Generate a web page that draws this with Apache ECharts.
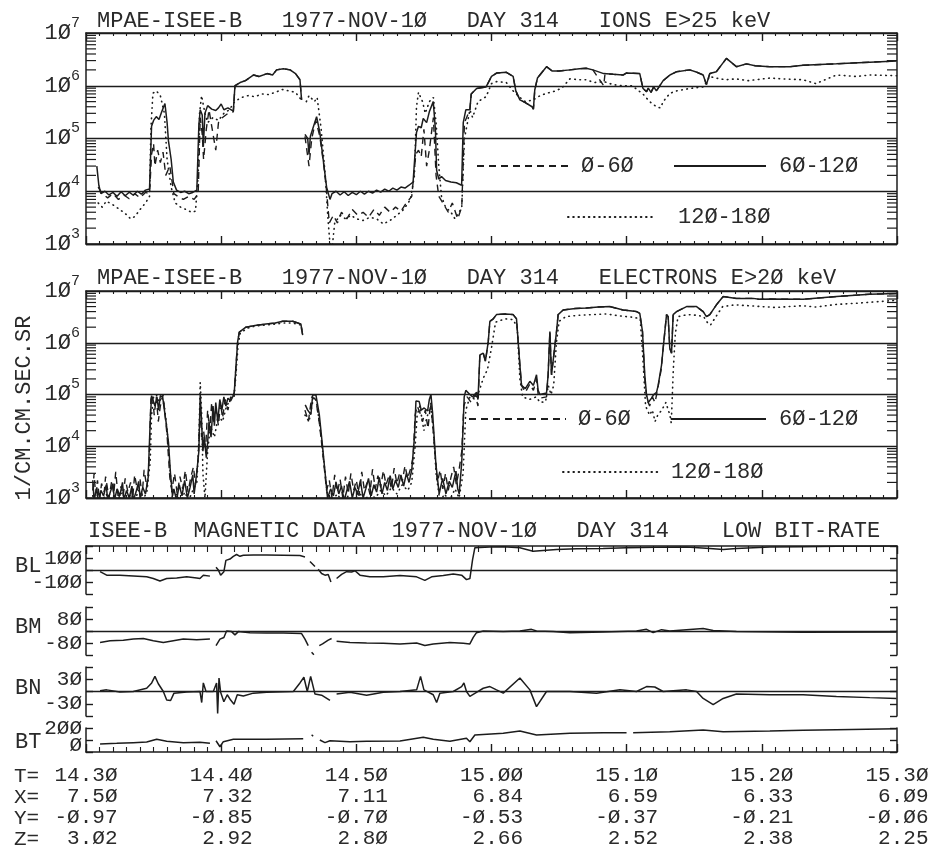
<!DOCTYPE html>
<html><head><meta charset="utf-8">
<script src="https://cdn.jsdelivr.net/npm/echarts@6.0.0/dist/echarts.min.js"></script>
<style>html,body{margin:0;padding:0;background:#fff}#c{width:940px;height:848px}</style>
</head><body><div id="c"></div>
<script>
// ---------- texts ----------
const ionTitle = 'MPAE-ISEE-B   1977-NOV-1Ø   DAY 314   IONS E>25 keV';
const elecTitle = 'MPAE-ISEE-B   1977-NOV-1Ø   DAY 314   ELECTRONS E>2Ø keV';
const magTitle = 'ISEE-B  MAGNETIC DATA  1977-NOV-1Ø   DAY 314    LOW BIT-RATE';
const yUnit = '1/CM.CM.SEC.SR';
const seriesNames = ['Ø-6Ø', '6Ø-12Ø', '12Ø-18Ø'];
const magNames = ['BL', 'BM', 'BN', 'BT'];

// ---------- bottom tick labels (every 10 min from 14.30) ----------
const tLabels = ['14.3Ø', '14.4Ø', '14.5Ø', '15.ØØ', '15.1Ø', '15.2Ø', '15.3Ø'];
const xPos = ['7.5Ø', '7.32', '7.11', '6.84', '6.59', '6.33', '6.Ø9'];
const yPos = ['-Ø.97', '-Ø.85', '-Ø.7Ø', '-Ø.53', '-Ø.37', '-Ø.21', '-Ø.Ø6'];
const zPos = ['3.Ø2', '2.92', '2.8Ø', '2.66', '2.52', '2.38', '2.25'];

// ---------- ions E>25 keV, [minutes after 14:30, flux] ----------
const ions060 = [[0.9,1.2e4],[1.2,9e3],[1.6,7.5e3],[2.0,9e3],[2.4,7e3],[2.8,8.5e3],[3.2,7.2e3],[3.6,9e3],[4.0,7.5e3],[4.4,9.5e3],[4.7,9e3],[4.85,5e4],[5.0,8e4],[5.1,3e4],[5.3,6e4],[5.5,3.5e4],[5.7,5.5e4],[5.9,2e4],[6.2,3e4],[6.5,9e3],[6.8,8e3],[7.2,7e3],[7.6,8e3],[8.0,7e3],[8.3,9e3],[8.45,2.5e5],[8.6,1.2e5],[8.7,4e4],[8.9,1.5e5],[9.1,3.5e5],[9.4,1.2e5],[9.6,6e4],[9.8,2e5],[10.1,2.5e5],[10.5,3e5],[10.9,3.2e5],[11.02,1.0e6],[11.4,1.15e6],[11.8,1.25e6],[12.4,1.6e6],[12.8,1.5e6],[13.4,1.7e6],[13.8,1.6e6],[14.1,2.0e6],[14.6,2.1e6],[15.1,2.0e6],[15.5,1.7e6],[15.83,1.3e6],[15.95,5.4e5],[16.05,null],[16.2,1.1e5],[16.5,3e4],[16.7,1e5],[17.0,2.2e5],[17.3,1.1e5],[17.6,3e4],[17.8,1e4],[18.0,2.5e3],[18.3,3.5e3],[18.6,2.5e3],[18.9,4e3],[19.3,3e3],[19.7,4.5e3],[20.1,3.5e3],[20.5,4e3],[20.9,3.2e3],[21.3,4.5e3],[21.7,3.5e3],[22.1,5e3],[22.5,4e3],[22.9,5e3],[23.3,4.2e3],[23.7,6e3],[24.1,8e3],[24.4,5e4],[24.6,6e4],[24.8,4.5e4],[25.0,1.5e5],[25.2,3e4],[25.4,6e4],[25.7,2.5e5],[25.9,2e4],[26.1,8e3],[26.4,6e3],[26.8,4e3],[27.1,6e3],[27.5,3e3],[27.8,5e3],[28.0,2e5],[28.4,3.5e5],[28.5,7e5],[28.9,8.9e5],[29.6,9.5e5],[30.0,1.5e6],[30.4,1.75e6],[31.1,1.8e6],[31.6,1.5e6],[31.8,8e5],[32.1,5.4e5],[32.5,4.8e5],[33.0,4.0e5],[33.1,3.6e5],[33.2,8.3e5],[33.4,1.4e6],[34.07,2.3e6],[34.5,1.9e6],[35.0,1.9e6],[35.8,2.0e6],[36.5,2.1e6],[37.0,2.15e6],[37.5,2.0e6],[38.3,1.0e6],[38.4,1.7e6],[39.0,1.65e6],[39.74,1.6e6],[40.0,1.75e6],[40.97,1.7e6],[41.2,9e5],[41.47,7.7e5],[41.6,9e5],[41.8,7.5e5],[42.0,9.5e5],[42.2,8e5],[42.7,1.25e6],[43.2,1.6e6],[43.7,1.85e6],[44.67,2.0e6],[45.2,1.8e6],[45.66,1.6e6],[45.9,1.05e6],[46.15,1.7e6],[46.64,1.85e6],[47.38,3.3e6],[48.12,2.3e6],[48.86,2.6e6],[49.5,2.4e6],[50.59,2.3e6],[52.07,2.3e6],[53.05,2.45e6],[55.52,2.6e6],[57.99,2.8e6],[59.96,2.95e6]];
const ions60120 = [[0.8,3e4],[0.95,1.3e4],[1.1,9e3],[1.4,1.0e4],[1.7,8.5e3],[2.0,9.5e3],[2.3,8e3],[2.6,9.8e3],[2.9,8.2e3],[3.2,9.6e3],[3.5,8.4e3],[3.8,1.0e4],[4.1,8.8e3],[4.4,1.05e4],[4.7,1.1e4],[4.85,1.7e5],[5.0,2.2e5],[5.2,2.6e5],[5.4,2.3e5],[5.6,3.2e5],[5.84,4.6e5],[6.0,2e5],[6.1,9e4],[6.3,4e4],[6.46,1.5e4],[6.7,1.05e4],[7.0,9.5e3],[7.3,1.0e4],[7.6,9e3],[7.9,9.5e3],[8.2,1.05e4],[8.35,1.8e5],[8.45,3.5e5],[8.6,2.8e5],[8.68,7e4],[8.8,3e5],[9.0,4.2e5],[9.3,3.6e5],[9.6,3.4e5],[9.8,3.8e5],[10.0,4.5e5],[10.2,3.5e5],[10.5,3.8e5],[10.9,3.3e5],[11.02,1.0e6],[11.4,1.15e6],[11.8,1.25e6],[12.4,1.6e6],[12.8,1.5e6],[13.4,1.7e6],[13.8,1.6e6],[14.1,2.0e6],[14.6,2.1e6],[15.1,2.0e6],[15.5,1.7e6],[15.83,1.3e6],[15.95,5.4e5],[16.05,null],[16.2,1.2e5],[16.4,1.0e5],[16.5,5e4],[16.6,1.1e5],[16.8,1.6e5],[17.06,2.6e5],[17.3,1.3e5],[17.5,5e4],[17.8,1.2e4],[18.05,7e3],[18.2,9e3],[18.5,1.0e4],[18.8,8.5e3],[19.1,9.8e3],[19.4,8.3e3],[19.7,9.5e3],[20.0,8.6e3],[20.3,1.0e4],[20.6,8.8e3],[20.9,1.0e4],[21.2,9.2e3],[21.5,1.05e4],[21.8,9.6e3],[22.1,1.1e4],[22.4,1.0e4],[22.7,1.15e4],[23.0,1.05e4],[23.3,1.2e4],[23.6,1.15e4],[23.9,1.3e4],[24.2,1.5e4],[24.45,1.3e5],[24.6,1.7e5],[24.8,1.6e5],[24.95,2.4e5],[25.2,2.0e5],[25.4,3.2e5],[25.69,5.0e5],[25.85,1.5e5],[25.94,2.5e4],[26.1,1.7e4],[26.3,1.9e4],[26.6,1.6e4],[27.0,1.5e4],[27.4,1.45e4],[27.79,1.3e4],[27.91,2e5],[28.1,3.5e5],[28.4,3.5e5],[28.5,7e5],[28.9,8.9e5],[29.6,9.5e5],[30.0,1.5e6],[30.4,1.75e6],[31.1,1.8e6],[31.6,1.5e6],[31.8,8e5],[32.1,5.4e5],[32.5,4.8e5],[33.0,4.0e5],[33.1,3.6e5],[33.2,8.3e5],[33.4,1.4e6],[34.07,2.3e6],[34.5,1.9e6],[35.0,1.9e6],[35.8,2.0e6],[36.5,2.1e6],[37.0,2.15e6],[37.5,2.0e6],[38.3,1.7e6],[39.0,1.65e6],[39.74,1.6e6],[40.0,1.75e6],[40.97,1.7e6],[41.2,9e5],[41.47,7.7e5],[41.6,9e5],[41.8,7.5e5],[42.0,9.5e5],[42.2,8e5],[42.7,1.25e6],[43.2,1.6e6],[43.7,1.85e6],[44.67,2.0e6],[45.2,1.8e6],[45.66,1.6e6],[45.9,1.05e6],[46.15,1.7e6],[46.64,1.85e6],[47.38,3.3e6],[48.12,2.3e6],[48.86,2.6e6],[49.5,2.4e6],[50.59,2.3e6],[52.07,2.3e6],[53.05,2.45e6],[55.52,2.6e6],[57.99,2.8e6],[59.96,2.95e6]];
const ions120180 = [[0.9,6e3],[1.2,5e3],[1.5,6.5e3],[2.0,5.5e3],[2.5,4.5e3],[3.0,3.6e3],[3.3,3.0e3],[3.6,3.3e3],[4.0,4.5e3],[4.4,6e3],[4.7,8e3],[4.8,1.5e5],[4.95,7.2e5],[5.2,8e5],[5.5,6.5e5],[5.8,3e5],[6.0,4e4],[6.3,1.2e4],[6.6,6e3],[7.0,5e3],[7.4,4.5e3],[7.8,4e3],[8.1,4.2e3],[8.3,2e4],[8.4,3e5],[8.55,6.5e5],[8.8,3e5],[9.0,2e5],[9.4,2.5e5],[9.8,2.2e5],[10.2,3e5],[10.6,3.5e5],[11.0,5e5],[11.5,6e5],[12.0,6.5e5],[12.5,6.2e5],[13.0,7e5],[13.5,6.8e5],[14.0,7.5e5],[14.5,8.5e5],[15.0,8e5],[15.5,7.5e5],[15.9,5.5e5],[16.1,null],[16.3,5e5],[16.5,6.5e5],[16.9,5e5],[17.1,6e5],[17.4,1.5e5],[17.7,2e4],[17.9,3e3],[18.05,1e3],[18.2,8e2],[18.4,2.5e3],[18.8,3.5e3],[19.2,3e3],[19.6,3.5e3],[20.0,3e3],[20.5,2.8e3],[21.0,3.2e3],[21.5,3.0e3],[22.0,2.4e3],[22.5,2.8e3],[23.0,3.5e3],[23.5,4.5e3],[24.0,7e3],[24.3,2e4],[24.45,4e5],[24.6,7.5e5],[24.9,5e5],[25.1,3e5],[25.4,5e5],[25.7,6e5],[25.9,2e5],[26.1,3e4],[26.3,8e3],[26.6,5e3],[27.0,4e3],[27.3,3e3],[27.6,4e3],[27.8,5e3],[28.0,1e5],[28.4,3.5e5],[28.6,2.5e5],[29.0,5e5],[29.6,6.2e5],[30.0,1.1e6],[30.4,1.2e6],[31.1,1.15e6],[31.6,8e5],[32.1,6e5],[32.5,5e5],[33.1,5.4e5],[33.6,6.5e5],[34.07,7.2e5],[34.56,7.7e5],[35.2,9e5],[35.8,1.35e6],[36.5,1.3e6],[37.0,1.3e6],[37.6,1.15e6],[38.3,1.2e6],[39.0,1.05e6],[39.7,1.0e6],[40.4,1.0e6],[41.2,7e5],[41.7,5e5],[42.2,4e5],[42.5,3.8e5],[42.7,5e5],[43.2,7.2e5],[43.7,8e5],[44.67,8.9e5],[45.66,9.5e5],[46.15,1.5e6],[46.6,1.4e6],[47.3,1.3e6],[48.1,1.35e6],[49.0,1.25e6],[50.59,1.4e6],[51.5,1.35e6],[53.05,1.3e6],[54.0,1.1e6],[55.52,1.6e6],[57.0,1.5e6],[58.0,1.6e6],[59.96,1.55e6]];

// ---------- electrons E>20 keV ----------
const elec060 = [[0.5,1.4e3],[0.6,3e3],[0.7,1.2e3],[0.85,2.2e3],[1.0,9e2],[1.15,1.9e3],[1.35,1.3e3],[1.45,2.6e3],[1.7,1.0e3],[1.9,2.1e3],[2.05,1.2e3],[2.2,3.2e3],[2.4,9e2],[2.6,1.7e3],[2.75,1.1e3],[2.9,2.4e3],[3.1,1.3e3],[3.3,2.0e3],[3.45,1.0e3],[3.6,2.8e3],[3.8,1.4e3],[4.0,2.3e3],[4.15,1.1e3],[4.3,3.5e3],[4.5,1.6e3],[4.65,4e3],[4.8,8e4],[4.9,1.0e5],[5.05,4e4],[5.2,9e4],[5.35,3e4],[5.5,6e4],[5.7,1e5],[5.85,4e4],[6.0,1.6e4],[6.2,2.5e3],[6.35,1.4e3],[6.55,3e3],[6.75,1.2e3],[6.95,2.6e3],[7.15,1.5e3],[7.35,3.4e3],[7.55,1.3e3],[7.75,2.5e3],[7.95,4e3],[8.1,1.8e3],[8.3,6e3],[8.45,6e4],[8.55,1.5e4],[8.7,2e4],[8.85,9e3],[9.0,5e4],[9.15,2e4],[9.3,7e4],[9.45,3e4],[9.6,5e4],[9.8,2.5e4],[9.95,7e4],[10.1,3.5e4],[10.3,8e4],[10.5,5e4],[10.7,9e4],[10.9,8e4],[10.97,1.1e5],[11.1,3.7e5],[11.22,1.05e6],[11.34,1.6e6],[11.83,2.0e6],[12.5,2.15e6],[13.31,2.3e6],[14.0,2.4e6],[14.55,2.6e6],[15.29,2.6e6],[15.9,2.3e6],[16.03,1.4e6],[16.1,null],[16.2,5e4],[16.45,3e4],[16.7,9e4],[17.0,8e4],[17.25,3e4],[17.5,8e3],[17.8,1.4e3],[18.0,2.2e3],[18.2,1.0e3],[18.4,2.8e3],[18.6,1.3e3],[18.8,2.3e3],[19.0,1.0e3],[19.2,2.6e3],[19.4,1.2e3],[19.6,3e3],[19.8,1.4e3],[20.0,2.2e3],[20.2,1.1e3],[20.4,3.2e3],[20.6,1.4e3],[20.8,2.0e3],[21.0,1.2e3],[21.2,3.6e3],[21.4,1.5e3],[21.6,2.7e3],[21.8,1.6e3],[22.0,3.4e3],[22.2,1.8e3],[22.4,2.6e3],[22.6,1.5e3],[22.8,3.8e3],[23.0,1.9e3],[23.2,3.0e3],[23.4,2.1e3],[23.6,4.2e3],[23.8,2.4e3],[24.0,3.6e3],[24.2,6e3],[24.35,4e4],[24.5,6e4],[24.7,4.5e4],[24.9,3e4],[25.1,5e4],[25.3,2.2e4],[25.5,7e4],[25.7,1.8e4],[25.85,6e3],[26.0,2e3],[26.2,3.5e3],[26.4,1.5e3],[26.6,3e3],[26.8,1.4e3],[27.0,2.5e3],[27.2,4e3],[27.4,1.8e3],[27.6,3.5e3],[27.8,8e3],[27.95,6e4],[28.2,9e4],[28.5,7e4],[28.8,1.0e5],[29.0,6e4],[29.14,5.8e5],[29.39,6.3e5],[29.55,4.4e5],[29.76,1.05e6],[29.88,2.6e6],[30.13,2.9e6],[30.37,3.5e6],[31.0,3.6e6],[31.6,3.5e6],[31.85,2.9e6],[32.1,3.7e5],[32.22,1.5e5],[32.5,1.1e5],[32.84,1.6e5],[33.1,1.2e5],[33.33,2e5],[33.45,1.0e5],[33.58,8.5e4],[34.07,9e4],[34.19,2.4e5],[34.32,1.65e6],[34.44,2.4e5],[34.56,2.4e5],[34.81,1.65e6],[34.93,3.5e6],[35.3,4.3e6],[36.2,4.6e6],[37.03,4.7e6],[37.9,4.9e6],[38.75,5.0e6],[39.74,4.3e6],[40.73,4.0e6],[40.97,3.7e6],[41.17,1.65e6],[41.34,2.0e5],[41.5,8e4],[41.7,6e4],[41.9,9e4],[42.1,7e4],[42.3,1.3e5],[42.55,3e5],[42.7,7.8e5],[42.95,3.5e6],[43.07,3.2e6],[43.19,7.8e5],[43.32,6.3e5],[43.44,3.5e6],[43.69,4.0e6],[44.43,5.0e6],[45.17,5.0e6],[45.66,4.0e6],[45.9,3.2e6],[46.15,3.5e6],[46.64,5.4e6],[47.14,7.8e6],[48.12,7.2e6],[49.36,7.2e6],[49.8,6.9e6],[50.59,7.0e6],[53.05,6.9e6],[55.52,7.8e6],[57.99,8.7e6],[59.96,8.9e6]];
const elec60120 = [[0.5,2.2e3],[0.6,9e2],[0.8,1.6e3],[0.9,8e2],[1.1,1.4e3],[1.3,1.1e3],[1.5,1.8e3],[1.6,9e2],[1.8,1.3e3],[2.0,1.9e3],[2.1,9e2],[2.3,1.5e3],[2.5,1.1e3],[2.7,2.0e3],[2.8,9e2],[3.0,1.4e3],[3.2,1.0e3],[3.4,1.7e3],[3.5,9e2],[3.7,1.3e3],[3.9,2.1e3],[4.0,1.0e3],[4.2,1.6e3],[4.4,1.2e3],[4.6,2.5e3],[4.75,3e4],[4.85,9.5e4],[4.95,1.0e5],[5.1,6e4],[5.25,9e4],[5.37,5e4],[5.5,9.5e4],[5.67,9e4],[5.8,5e4],[5.92,3e4],[6.1,1.2e4],[6.25,3e3],[6.4,1.1e3],[6.5,1.5e3],[6.7,9e2],[6.9,1.8e3],[7.1,1.1e3],[7.3,2.2e3],[7.5,1.0e3],[7.7,1.6e3],[7.9,2.8e3],[8.0,1.2e3],[8.2,3.2e3],[8.35,8e3],[8.45,1.0e5],[8.55,3e4],[8.65,8e3],[8.75,1.5e4],[8.9,6e3],[9.0,1.2e4],[9.1,3e4],[9.25,1.5e4],[9.4,6e4],[9.5,2.5e4],[9.6,7e4],[9.75,3e4],[9.9,8e4],[10.05,5e4],[10.2,9e4],[10.35,6e4],[10.5,8.5e4],[10.7,7.5e4],[10.85,9e4],[10.97,1.1e5],[11.1,3.7e5],[11.22,1.05e6],[11.34,1.6e6],[11.83,2.0e6],[12.5,2.15e6],[13.31,2.3e6],[14.0,2.4e6],[14.55,2.6e6],[15.29,2.6e6],[15.9,2.3e6],[16.03,1.4e6],[16.1,null],[16.22,6.3e4],[16.4,5e4],[16.64,4.1e4],[16.77,9.8e4],[17.01,9.8e4],[17.26,4.1e4],[17.5,1.0e4],[17.75,2.1e3],[17.87,1.0e3],[18.1,1.5e3],[18.3,1.1e3],[18.5,2.0e3],[18.7,1.2e3],[18.9,1.7e3],[19.1,9e2],[19.3,1.4e3],[19.5,2.1e3],[19.7,1.0e3],[19.9,1.6e3],[20.1,1.2e3],[20.3,2.2e3],[20.5,1.0e3],[20.7,1.5e3],[20.9,2.4e3],[21.1,1.1e3],[21.3,1.8e3],[21.5,1.3e3],[21.7,2.5e3],[21.9,1.2e3],[22.1,2.0e3],[22.3,1.4e3],[22.5,2.7e3],[22.7,1.5e3],[22.9,2.2e3],[23.1,1.6e3],[23.3,2.8e3],[23.5,1.7e3],[23.7,3.0e3],[23.9,2.0e3],[24.1,3.5e3],[24.3,1.5e4],[24.41,7.5e4],[24.65,7.3e4],[24.8,5e4],[25.02,5.5e4],[25.27,4.8e4],[25.4,8e4],[25.52,1.0e5],[25.64,4.5e4],[25.89,4.4e3],[26.13,1.2e3],[26.38,2.4e3],[26.63,1.2e3],[26.87,2.1e3],[27.1,1.6e3],[27.37,3.3e3],[27.5,1.5e3],[27.61,1.2e3],[27.8,5e3],[27.98,9e4],[28.1,1.2e5],[28.4,1.0e5],[28.6,9e4],[28.9,1.1e5],[29.0,8e4],[29.14,5.8e5],[29.39,6.3e5],[29.55,4.4e5],[29.76,1.05e6],[29.88,2.6e6],[30.13,2.9e6],[30.37,3.5e6],[31.0,3.6e6],[31.6,3.5e6],[31.85,2.9e6],[32.1,3.7e5],[32.22,1.5e5],[32.5,1.3e5],[32.84,1.8e5],[33.1,1.5e5],[33.33,2.4e5],[33.45,1.2e5],[33.58,1.0e5],[34.07,1.07e5],[34.19,2.4e5],[34.32,1.65e6],[34.44,2.4e5],[34.56,2.4e5],[34.81,1.65e6],[34.93,3.5e6],[35.3,4.3e6],[36.2,4.6e6],[37.03,4.7e6],[37.9,4.9e6],[38.75,5.0e6],[39.74,4.3e6],[40.73,4.0e6],[40.97,3.7e6],[41.17,1.65e6],[41.34,2.4e5],[41.47,9.8e4],[41.6,7e4],[41.84,8.5e4],[42.0,1.0e5],[42.21,1.1e5],[42.33,1.5e5],[42.58,3.7e5],[42.7,7.8e5],[42.95,3.5e6],[43.07,3.2e6],[43.19,7.8e5],[43.32,6.3e5],[43.44,3.5e6],[43.69,4.0e6],[44.43,5.0e6],[45.17,5.0e6],[45.66,4.0e6],[45.9,3.2e6],[46.15,3.5e6],[46.64,5.4e6],[47.14,7.8e6],[48.12,7.2e6],[49.36,7.2e6],[49.8,6.9e6],[50.59,7.0e6],[53.05,6.9e6],[55.52,7.8e6],[57.99,8.7e6],[59.96,8.9e6]];
const elec120180 = [[0.5,1.1e3],[0.7,8e2],[0.9,1.3e3],[1.2,9e2],[1.5,1.2e3],[1.8,8e2],[2.1,1.1e3],[2.4,9e2],[2.7,1.3e3],[3.0,8e2],[3.3,1.2e3],[3.6,9e2],[3.9,1.4e3],[4.2,9e2],[4.5,1.3e3],[4.75,5e3],[4.85,4e4],[5.0,9e4],[5.2,1e5],[5.4,7e4],[5.6,9e4],[5.8,6e4],[6.0,2e4],[6.2,4e3],[6.4,9e2],[6.7,1.2e3],[7.0,8e2],[7.3,1.3e3],[7.6,9e2],[7.9,1.4e3],[8.2,2e3],[8.35,1.2e4],[8.45,1.7e5],[8.55,5e4],[8.65,3e3],[8.8,1e3],[9.0,8e3],[9.2,2.5e4],[9.5,1.5e4],[9.8,4e4],[10.1,3e4],[10.4,6e4],[10.7,8e4],[10.95,9e4],[11.1,2.5e5],[11.25,9e5],[11.4,1.5e6],[11.9,1.9e6],[12.5,2.1e6],[13.3,2.2e6],[14.0,2.3e6],[14.6,2.4e6],[15.3,2.4e6],[15.9,2.2e6],[16.0,1.5e6],[16.1,null],[16.2,4e4],[16.5,3e4],[16.8,8e4],[17.0,9e4],[17.3,2.5e4],[17.6,5e3],[17.85,1.2e3],[18.2,9e2],[18.6,1.2e3],[19.0,8e2],[19.4,1.1e3],[19.8,9e2],[20.2,1.3e3],[20.6,9e2],[21.0,1.2e3],[21.4,1.0e3],[21.8,1.4e3],[22.2,1.1e3],[22.6,1.6e3],[23.0,1.2e3],[23.4,1.8e3],[23.8,1.4e3],[24.1,2e3],[24.35,1e4],[24.5,4e4],[24.7,6e4],[25.0,2e4],[25.2,3.5e4],[25.5,6e4],[25.7,2e4],[25.9,3e3],[26.2,8e2],[26.5,1.2e3],[26.9,9e2],[27.3,1.5e3],[27.6,1e3],[27.9,3e3],[28.1,5e4],[28.4,9e4],[28.8,8e4],[29.1,1.2e5],[29.4,2.1e5],[29.7,3e5],[30.0,8e5],[30.3,2.5e6],[31.0,2.9e6],[31.6,2.8e6],[31.9,2e6],[32.1,2e5],[32.3,9e4],[32.8,8e4],[33.3,9e4],[33.6,7e4],[34.0,7.3e4],[34.2,1.5e5],[34.4,1e5],[34.6,1.5e5],[34.8,1e6],[35.0,2.6e6],[35.5,3.2e6],[36.5,3.4e6],[37.5,3.5e6],[38.5,3.6e6],[39.5,3.3e6],[40.5,3.1e6],[41.0,2.9e6],[41.2,5e5],[41.4,6e4],[41.7,4e4],[41.9,5e4],[42.1,3e4],[42.2,2.8e4],[42.3,4e4],[42.6,5e4],[42.9,7e4],[43.2,4e4],[43.3,2.8e4],[43.45,3e5],[43.6,1.5e6],[43.8,3.2e6],[44.5,3.5e6],[45.2,3.4e6],[45.7,3.2e6],[46.0,2.4e6],[46.2,2.2e6],[46.7,3.5e6],[47.1,5.0e6],[48.0,5.4e6],[49.0,5.2e6],[50.0,5.0e6],[51.0,4.8e6],[52.0,5.0e6],[53.0,5.2e6],[54.0,4.9e6],[55.5,5.5e6],[57.0,5.8e6],[58.5,6.2e6],[59.96,6.6e6]];

// ---------- magnetic field (nT) ----------
const magBL = [[1.04,-14],[1.53,-43],[2.51,-43],[3.5,-49],[4.49,-57],[4.98,-71],[5.47,-91],[5.97,-71],[6.71,-66],[7.45,-57],[8.19,-66],[8.43,-71],[8.68,-43],[9.17,-51],[9.4,null],[9.62,23],[9.79,0],[9.96,-43],[10.2,-14],[10.35,80],[10.65,91],[10.9,114],[11.14,129],[11.39,114],[11.64,123],[12.38,126],[13.36,126],[14.6,123],[15.83,120],[16.2,109],[16.4,null],[16.57,71],[16.94,29],[17.05,null],[17.18,6],[17.43,-29],[17.68,-43],[17.92,-37],[18.12,-100],[18.3,null],[18.54,-71],[18.91,-37],[19.28,-14],[19.65,-17],[19.9,-6],[20.27,-43],[21.0,-57],[21.99,-57],[23.23,-46],[24.46,-57],[25.07,-86],[25.57,-57],[26.43,-46],[27.17,-34],[27.79,-43],[28.15,-80],[28.4,-71],[28.6,86],[28.77,186],[29.88,191],[30.87,194],[32.1,186],[33.08,157],[33.82,163],[34.81,171],[36.3,177],[38.26,180],[39.99,186],[42.2,189],[44.43,191],[46.15,180],[47.14,171],[48.12,180],[50.59,191],[53.05,194],[55.52,197],[59.96,199]];
const magBM = [[1.04,-76],[1.78,-65],[2.76,-61],[3.5,-54],[4.24,-50],[4.98,-65],[5.72,-76],[6.46,-65],[7.2,-54],[8.19,-58],[9.17,-54],[9.4,null],[9.62,-97],[9.91,-54],[10.2,-43],[10.4,0],[10.77,-4],[11.02,-26],[11.27,-4],[12.13,-11],[13.36,-13],[14.6,-13],[15.95,-17],[16.2,-54],[16.44,-97],[16.55,null],[16.69,-141],[16.86,-158],[17.0,null],[17.26,-97],[17.5,-86],[17.92,-61],[18.17,-50],[18.35,null],[18.54,-69],[19.53,-76],[20.76,-80],[21.99,-82],[23.23,-86],[24.46,-80],[25.07,-97],[25.69,-86],[26.92,-76],[27.91,-82],[28.4,-86],[28.65,-43],[28.89,-11],[29.39,0],[30.87,-4],[32.1,0],[32.96,11],[33.33,0],[34.56,-4],[35.8,-11],[38.26,-6],[40.73,0],[41.47,11],[41.96,-11],[42.58,9],[43.19,0],[45.66,17],[46.4,4],[48.12,-4],[53.05,-9],[59.96,-6]];
const magBN = [[1.04,2],[1.53,4],[2.51,-1],[3.5,0],[4.49,8],[4.86,21],[5.1,37],[5.35,19],[5.72,0],[5.97,-21],[6.26,-22],[6.51,-4],[7.45,-1],[8.43,0],[8.56,-27],[8.68,21],[8.88,0],[9.42,0],[9.66,21],[9.74,-54],[9.84,33],[9.96,-2],[10.2,-25],[10.45,-8],[10.7,-21],[10.95,-31],[11.19,-8],[11.64,-11],[12.38,-4],[13.36,-2],[15.34,0],[15.83,21],[16.12,35],[16.37,0],[16.62,37],[16.94,-6],[17.43,-9],[18.05,-22],[18.3,null],[18.54,-6],[19.53,-2],[20.76,-9],[21.99,-2],[23.23,0],[24.46,4],[24.75,37],[25.0,4],[25.69,-8],[25.94,-27],[26.18,-4],[27.17,0],[27.79,12],[27.96,21],[28.15,0],[28.4,-12],[28.89,-2],[29.39,8],[29.88,12],[30.37,4],[30.87,-4],[32.1,33],[32.84,4],[33.33,-37],[34.07,0],[35.8,0],[37.77,-4],[39.5,4],[40.73,0],[41.47,12],[42.08,11],[42.7,0],[44.43,4],[45.17,0],[45.66,-17],[46.4,-32],[47.14,-17],[48.12,-6],[50.59,-8],[53.05,-8],[55.52,-12],[57.99,-15],[59.96,-17]];
const magBT = [[1.04,67],[2.27,72],[3.5,78],[4.49,83],[5.23,106],[5.97,89],[7.2,78],[8.43,81],[9.17,72],[9.4,null],[9.62,94],[9.91,44],[10.16,86],[10.9,106],[13.36,106],[16.07,111],[16.4,null],[16.69,142],[16.81,133],[17.0,null],[17.3,100],[17.68,78],[18.05,94],[19.53,86],[20.76,89],[23.23,92],[24.95,122],[25.69,106],[26.92,89],[28.15,114],[28.4,86],[28.77,142],[30.87,156],[32.1,175],[33.33,142],[35.8,156],[38.26,161],[39.99,161],[40.2,null],[40.48,161],[43.19,169],[45.66,183],[47.14,169],[50.59,175],[53.05,181],[55.52,186],[59.96,194]];

// ---------- axis settings (per magnetic panel) ----------
const magRanges = [[-200, 200, 100], [-160, 160, 80], [-60, 60, 30], [0, 200, 100]];
const magLabelVals = [[-100, 100], [-80, 80], [-30, 30], [0, 200]];

// ---------- styling ----------
const FONT = '"Liberation Mono", "DejaVu Sans Mono", monospace';
const INK = '#1c1c1c';
const TXT = '#2a2a2a';
const FS = 22;
const lineStyles = [
  { color: INK, width: 1.4, type: [7, 5] },
  { color: INK, width: 1.5, type: 'solid' },
  { color: INK, width: 1.6, type: [0.6, 4.6], cap: 'round' }
];
const zeroStr = s => String(s).replace(/0/g, 'Ø');

const grids = [
  { left: 86, top: 33, width: 811, height: 211 },
  { left: 86, top: 291, width: 811, height: 207 },
  { left: 86, top: 546, width: 811, height: 48 },
  { left: 86, top: 607, width: 811, height: 48 },
  { left: 86, top: 667, width: 811, height: 49 },
  { left: 86, top: 728, width: 811, height: 24 }
].map(g => Object.assign({ containLabel: false, outerBoundsMode: 'none' }, g));

function xAx(gridIndex, position, extra) {
  return Object.assign({
    type: 'value', gridIndex, position, min: 0, max: 60, interval: 10,
    axisLine: { show: true, onZero: false, lineStyle: { color: INK, width: 1.5 } },
    axisTick: { show: true, inside: true, length: 8, lineStyle: { color: INK, width: 1.4 } },
    minorTick: { show: true, splitNumber: 10, length: 3, lineStyle: { color: INK, width: 1.1 } },
    axisLabel: { show: false },
    splitLine: { show: false }, minorSplitLine: { show: false }
  }, extra || {});
}

const xAxes = [
  xAx(0, 'bottom'), xAx(0, 'top'),
  xAx(1, 'bottom'), xAx(1, 'top'),
  xAx(2, 'top', { minorTick: { show: true, splitNumber: 10, length: 6, lineStyle: { color: INK, width: 1.1 } } }),
  xAx(3, 'bottom', { show: false }),
  xAx(4, 'bottom', { show: false }),
  xAx(5, 'bottom', {
    minorTick: { show: true, splitNumber: 10, length: 5, lineStyle: { color: INK, width: 1.1 } },
    axisLabel: {
      show: true, margin: 13, showMinLabel: true, showMaxLabel: true,
      fontFamily: FONT, fontSize: 21, lineHeight: 21, color: TXT, align: 'center', verticalAlign: 'top',
      formatter: v => {
        const i = Math.round(v / 10);
        return [tLabels[i], xPos[i], yPos[i], zPos[i]].map(s => s.padStart(5, ' ')).join('\n');
      }
    }
  })
];

function logAx(gridIndex, position, withLabels) {
  return {
    type: 'log', logBase: 10, gridIndex, position, min: 1e3, max: 1e7,
    axisLine: { show: true, onZero: false, lineStyle: { color: INK, width: 1.5 } },
    axisTick: { show: false },
    axisLabel: withLabels ? {
      show: true, margin: 6, showMinLabel: true, showMaxLabel: true,
      formatter: v => '{b|1Ø}{e|' + Math.round(Math.log10(v)) + '}',
      rich: {
        b: { fontFamily: FONT, fontSize: FS, lineHeight: 22, color: TXT, verticalAlign: 'middle' },
        e: { fontFamily: FONT, fontSize: 15, lineHeight: 15, color: TXT, verticalAlign: 'middle', padding: [0, 0, 20, 0] }
      }
    } : { show: false },
    splitLine: { show: withLabels, lineStyle: { color: INK, width: 1.3 } }
  };
}

function magAx(k, position) {
  const [mn, mx, iv] = magRanges[k];
  const left = position === 'left';
  return {
    type: 'value', gridIndex: k + 2, position, min: mn, max: mx, interval: iv,
    axisLine: { show: true, onZero: false, lineStyle: { color: INK, width: 1.5 } },
    axisTick: { show: true, inside: true, length: 7, lineStyle: { color: INK, width: 1.4 } },
    axisLabel: left ? {
      show: true, margin: 4, showMinLabel: true, showMaxLabel: true,
      fontFamily: FONT, fontSize: 21, color: TXT,
      formatter: v => {
        if (magLabelVals[k].indexOf(v) < 0) return '';
        if (k === 3 && v === 0) return '{r|Ø}';
        return zeroStr(v);
      },
      rich: { r: { fontFamily: FONT, fontSize: 21, color: TXT, padding: [0, 0, 14, 0] } }
    } : { show: false },
    splitLine: { show: false }
  };
}

const yAxes = [
  logAx(0, 'left', true), logAx(0, 'right', false),
  logAx(1, 'left', true), logAx(1, 'right', false)
];
for (let k = 0; k < 4; k++) { yAxes.push(magAx(k, 'left')); yAxes.push(magAx(k, 'right')); }

// log minor tick marks drawn through the axis scale
const minorTickVals = [];
for (let p = 3; p < 7; p++) for (let m = 2; m < 10; m++) minorTickVals.push(m * Math.pow(10, p));
function minorTicks(xi, yi) {
  return {
    type: 'custom', xAxisIndex: xi, yAxisIndex: yi, silent: true, clip: false, z: 5,
    data: minorTickVals.map(v => [0, v]),
    renderItem(params, api) {
      const v = api.value(1);
      const l = api.coord([0, v]), r = api.coord([60, v]);
      return { type: 'group', children: [
        { type: 'line', shape: { x1: l[0], y1: l[1], x2: l[0] + 10, y2: l[1] }, style: { stroke: INK, lineWidth: 1.2 } },
        { type: 'line', shape: { x1: r[0] - 10, y1: r[1], x2: r[0], y2: r[1] }, style: { stroke: INK, lineWidth: 1.2 } }
      ] };
    }
  };
}

function lineSeries(name, data, xi, yi, styleIdx, extra) {
  return Object.assign({
    name, type: 'line', data, xAxisIndex: xi, yAxisIndex: yi,
    symbol: 'none', showSymbol: false, connectNulls: false, clip: true,
    lineStyle: lineStyles[styleIdx], emphasis: { disabled: true }, z: 3
  }, extra || {});
}

const zeroLine = {
  silent: true, symbol: ['none', 'none'], label: { show: false },
  lineStyle: { color: INK, width: 1.3, type: 'solid' }, emphasis: { disabled: true },
  data: [{ yAxis: 0 }]
};

const ionData = [ions060, ions60120, ions120180];
const elecData = [elec060, elec60120, elec120180];
const magData = [magBL, magBM, magBN, magBT];
const magX = [4, 5, 6, 7];

const series = [];
ionData.forEach((d, i) => series.push(lineSeries(seriesNames[i], d, 0, 0, i)));
elecData.forEach((d, i) => series.push(lineSeries(seriesNames[i], d, 2, 2, i)));
series.push(minorTicks(0, 0));
series.push(minorTicks(2, 2));
magData.forEach((d, k) => series.push(lineSeries(magNames[k], d, magX[k], 4 + 2 * k, 1,
  k < 3 ? { markLine: zeroLine } : {})));

function leg(name, left, lineY, textGap, width) {
  return {
    data: [name], left, top: lineY - 12, padding: 0, selectedMode: false,
    itemWidth: width, itemHeight: 2,
    itemStyle: { color: 'rgba(0,0,0,0)', borderWidth: 0 },
    textStyle: { fontFamily: FONT, fontSize: FS, lineHeight: 22, color: TXT, padding: [0, 0, 0, textGap - 5] }
  };
}

const titleStyle = { fontFamily: FONT, fontSize: FS, fontWeight: 'normal', color: TXT, lineHeight: 22 };

const option = {
  animation: false,
  backgroundColor: '#ffffff',
  title: [
    { text: ionTitle, left: 97, top: 10, padding: 0, textStyle: titleStyle },
    { text: elecTitle, left: 97, top: 267, padding: 0, textStyle: titleStyle },
    { text: magTitle, left: 88, top: 520, padding: 0, textStyle: titleStyle }
  ],
  legend: [
    leg(seriesNames[0], 476, 167, 12, 92),
    leg(seriesNames[1], 673, 167, 13, 92),
    leg(seriesNames[2], 567, 218, 22, 88),
    leg(seriesNames[0], 468, 420, 12, 97),
    leg(seriesNames[1], 670, 420, 13, 95),
    leg(seriesNames[2], 562, 473, 13, 95)
  ],
  grid: grids,
  xAxis: xAxes,
  yAxis: yAxes,
  series,
  graphic: [
    { type: 'text', x: 24, y: 408, rotation: Math.PI / 2,
      style: { text: yUnit, fontFamily: FONT, fontSize: FS, fill: TXT, align: 'center', verticalAlign: 'middle' } },
    { type: 'text', x: 15, y: 566, style: { text: magNames[0], fontFamily: FONT, fontSize: FS, fill: TXT, align: 'left', verticalAlign: 'middle' } },
    { type: 'text', x: 15, y: 627, style: { text: magNames[1], fontFamily: FONT, fontSize: FS, fill: TXT, align: 'left', verticalAlign: 'middle' } },
    { type: 'text', x: 15, y: 688, style: { text: magNames[2], fontFamily: FONT, fontSize: FS, fill: TXT, align: 'left', verticalAlign: 'middle' } },
    { type: 'text', x: 15, y: 742, style: { text: magNames[3], fontFamily: FONT, fontSize: FS, fill: TXT, align: 'left', verticalAlign: 'middle' } },
    { type: 'text', x: 14, y: 765.5, style: { text: 'T=\nX=\nY=\nZ=', fontFamily: FONT, fontSize: 21, lineHeight: 21, fill: TXT, align: 'left', verticalAlign: 'top' } }
  ]
};

const chart = echarts.init(document.getElementById('c'), null, { renderer: 'canvas', width: 940, height: 848 });
chart.setOption(option);
</script>
</body></html>
